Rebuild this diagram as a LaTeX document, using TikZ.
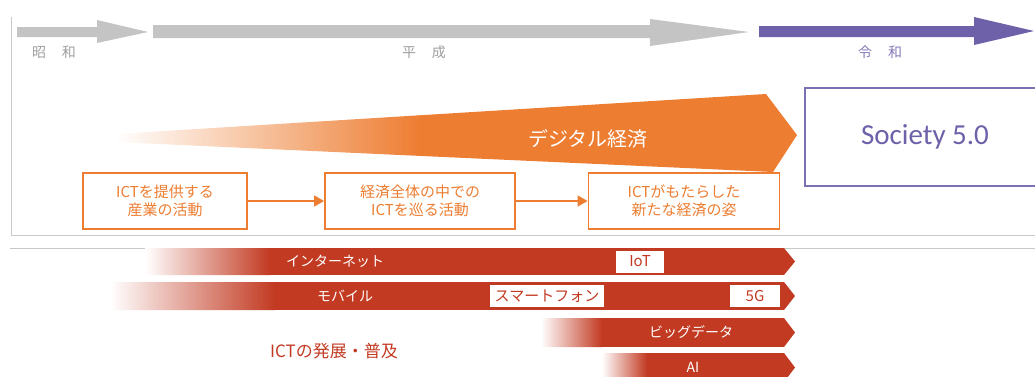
\documentclass[tikz,border=0pt]{standalone}
\usepackage{fontspec}
\setmainfont{Noto Sans CJK JP}
\newfontfamily\calibri{Carlito}
\usepackage{xcolor}
\definecolor{eragray}{HTML}{C4C4C4}
\definecolor{eratext}{HTML}{9E9E9E}
\definecolor{reiwa}{HTML}{6F60AA}
\definecolor{digi}{HTML}{ED7D31}
\definecolor{ictred}{HTML}{C23A22}
\definecolor{framegray}{HTML}{C8C8C8}
\usepackage{tikz}
\usetikzlibrary{arrows.meta,positioning}
\tikzset{
    frame/.style={
    draw=framegray,line width=0.8pt
    },
    era/.style={
    text=eratext,inner sep=0pt,font=\fontsize{14}{14}\selectfont
    },
    digitext/.style={
    text=white,inner sep=0pt,font=\fontsize{20}{20}\selectfont
    },
  ictbox/.style={rectangle, draw=digi, fill=white, line width=1.8pt, text=digi, align=center, minimum height=56pt, inner sep=2pt, font=\fontsize{15}{18}\selectfont},
  flow/.style={draw, digi, line width=1.6pt, -{Triangle[length=10pt,width=11pt]}},
  society/.style={rectangle, draw=reiwa!90, line width=1.8pt, fill=white, text=reiwa, minimum width=240pt, minimum height=98pt, font=\calibri\fontsize{29}{29}\selectfont},
  barlabel/.style={text=white, inner sep=0pt, font=\fontsize{14}{14}\selectfont},
  tag/.style={rectangle, fill=white, text=ictred, minimum height=22pt, inner sep=1pt, font=\fontsize{15}{15}\selectfont},
  fukyu/.style={text=ictred, inner sep=0pt, font=\fontsize{17}{17}\selectfont}
}
\begin{document}
\begin{tikzpicture}[x=1pt,y=-1pt]
    \useasboundingbox (0,0) rectangle (1035,376);

    % upper panel frame
    \draw[frame] (11,17) -- (11,235) -- (1035,235);
    \draw[frame] (10,248) -- (1035,248);

    % eras
    \fill[eragray] (17,27) -- (97,27) -- (97,20) -- (148,32) -- (97,43) -- (97,37) -- (17,37) -- cycle;
    \fill[eragray] (153,25) -- (650,25) -- (650,19) -- (749,32) -- (650,46) -- (650,38) -- (153,38) -- cycle;
    \fill[reiwa] (759,26) -- (974,26) -- (974,17) -- (1034,31) -- (974,45) -- (974,37) -- (759,37) -- cycle;

    \node[era] (showa) at (54,52) {昭\hspace{16pt}和};
    \node[era] (heisei) at (424,52) {平\hspace{16pt}成};
    \node[era,text=reiwa!85] (reiwa) at (880,52) {令\hspace{16pt}和};

    % digital economy wedge
    \begin{scope}
      \clip (115,134) -- (766,94) -- (797,135) -- (773,172) -- (115,142) -- cycle;
      \fill[digi] (419,80) rectangle (800,180);
      \shade[left color=white,right color=digi] (115,80) rectangle (420,180);
    \end{scope}
    \node[digitext] (keizai) at (588,139) {デジタル経済};

    \node[society] (s50) at (925,137) {Society 5.0};

    \node[ictbox,minimum width=164pt] (teikyo) at (165,201) {ICTを提供する\\産業の活動};
    \node[ictbox,minimum width=190pt] (meguru) at (420,201) {経済全体の中での\\ICTを巡る活動};
    \node[ictbox,minimum width=191pt] (sugata) at (684,201) {ICTがもたらした\\新たな経済の姿};

    \path[flow] (teikyo) -- (meguru);
    \path[flow] (meguru) -- (sugata);

    % ICT bars
    \begin{scope}
      \clip (145,248) -- (784,248) -- (795,261.5) -- (784,275) -- (145,275) -- cycle;
      \fill[ictred] (269,248) rectangle (800,275);
      \shade[left color=white,right color=ictred] (145,248) rectangle (270,275);
    \end{scope}
    \begin{scope}
      \clip (110,282) -- (784,282) -- (795,296) -- (784,310) -- (110,310) -- cycle;
      \fill[ictred] (274,282) rectangle (800,310);
      \shade[left color=white,right color=ictred] (110,282) rectangle (275,310);
    \end{scope}
    \begin{scope}
      \clip (541,318) -- (784,318) -- (795,332.5) -- (784,347) -- (541,347) -- cycle;
      \fill[ictred] (601,318) rectangle (800,347);
      \shade[left color=white,right color=ictred] (541,318) rectangle (602,347);
    \end{scope}
    \begin{scope}
      \clip (602,353) -- (784,353) -- (795,367.5) -- (784,382) -- (602,382) -- cycle;
      \fill[ictred] (646,353) rectangle (800,382);
      \shade[left color=white,right color=ictred] (602,353) rectangle (647,382);
    \end{scope}

    \node[barlabel] (net) at (335,261) {インターネット};
    \node[tag,minimum width=48pt] (iot) at (640,261.5) {IoT};
    \node[barlabel] (mobile) at (345,296) {モバイル};
    \node[tag,minimum width=114pt] (smaho) at (547,296) {スマートフォン};
    \node[tag,minimum width=50pt] (g5) at (755,296) {5G};
    \node[barlabel] (bigdata) at (691,332) {ビッグデータ};
    \node[barlabel] (ai) at (693,367) {AI};

    \node[fukyu] (hatten) at (334,351) {ICTの発展・普及};

\end{tikzpicture}
\end{document}
